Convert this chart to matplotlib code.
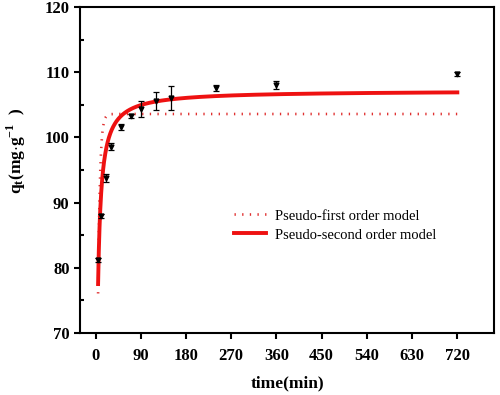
import numpy as np
from matplotlib import pyplot as plt
from matplotlib.ticker import MultipleLocator

plt.rcParams['font.family'] = ['Liberation Serif', 'DejaVu Serif']
plt.rcParams['mathtext.fontset'] = 'custom'
plt.rcParams['mathtext.rm'] = 'Liberation Serif'
plt.rcParams['mathtext.bf'] = 'Liberation Serif:bold'

# experimental data (time in min, qt in mg/g)
t_exp = [5, 10, 20, 30, 50, 70, 90, 120, 150, 240, 360, 720]
q_exp = [81.2, 88.0, 93.8, 98.6, 101.6, 103.3, 104.4, 105.6, 106.0, 107.6, 108.1, 109.8]
q_err = [0.3, 0.3, 0.6, 0.5, 0.4, 0.3, 1.25, 1.4, 1.85, 0.5, 0.6, 0.3]

# fitted model parameters
qe1, k1 = 103.6, 0.265      # pseudo-first order
qe2, k2 = 107.2, 0.00487    # pseudo-second order

t = np.linspace(5, 720, 1500)
q1 = qe1*(1 - np.exp(-k1*t))
q2 = qe2**2*k2*t/(1 + qe2*k2*t)

fig = plt.figure(figsize=(5, 3.95), dpi=100)
ax = fig.add_axes([0.16, 0.157, 0.828, 0.825])

ax.plot(t, q1, linestyle=(0, (0.5, 2.4)), color='#e03030', lw=1.9, label='Pseudo-first order model')
ax.plot(t, q2, linestyle='solid', color='#ee1111', lw=2.8, label='Pseudo-second order model')
ax.errorbar(t_exp, q_exp, yerr=q_err, fmt='v', color='black', ms=3.5,
            ecolor='black', elinewidth=0.9, capsize=2.5, capthick=0.9, zorder=5)

ax.set_xlim(-31, 793)
ax.set_ylim(70, 120)
ax.set_xticks(np.arange(0, 721, 90))
ax.yaxis.set_major_locator(MultipleLocator(10))
ax.yaxis.set_minor_locator(MultipleLocator(5))
ax.tick_params(axis='both', which='major', direction='out', length=4, width=1.5, labelsize=12)
ax.tick_params(axis='x', which='major', pad=7)
ax.tick_params(axis='y', which='minor', direction='in', length=3, width=1.5)
for lab in ax.get_xticklabels() + ax.get_yticklabels():
    lab.set_fontweight('bold')
for s in ax.spines.values():
    s.set_linewidth(1.5)

ax.set_xlabel('time(min)', fontsize=12.5, fontweight='bold', labelpad=8)
ax.set_ylabel(r'$\mathbf{q_t}$(mg$\cdot$g$^{\mathbf{-1}}$  )', fontsize=12.5, fontweight='bold')
ax.yaxis.set_label_coords(-0.125, 0.56)

ax.legend(loc='center left', bbox_to_anchor=(0.34, 0.33), frameon=False, fontsize=10.5,
          handlelength=2.2, handletextpad=0.6, labelspacing=0.4)

plt.savefig('out.png', dpi=100)
